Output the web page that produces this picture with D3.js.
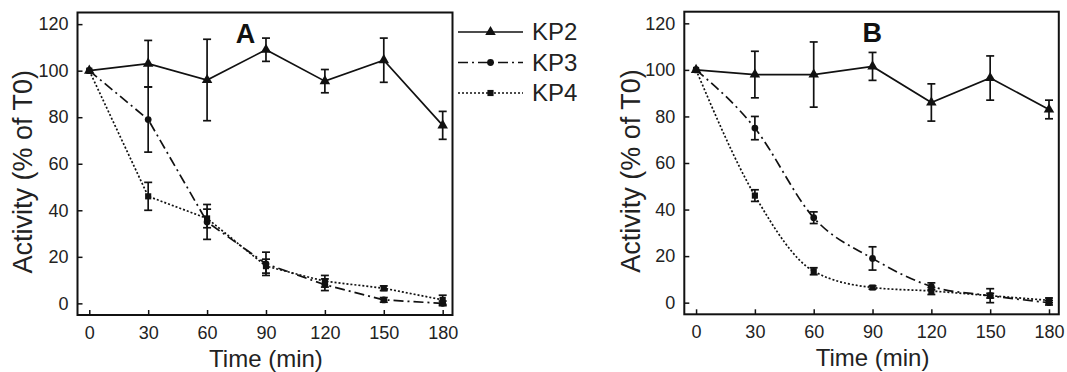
<!DOCTYPE html>
<html>
<head>
<meta charset="utf-8">
<script src="https://cdn.jsdelivr.net/npm/d3@7"></script>
<style>
  body { margin: 0; background: #fff; }
  svg { display: block; font-family: "Liberation Sans", Arial, sans-serif; }
</style>
</head>
<body>
<svg id="chart" width="1067" height="372"></svg>
<script>
// time points (min)
const times = [0, 30, 60, 90, 120, 150, 180];
const xTicks = [0, 30, 60, 90, 120, 150, 180];
const yTicks = [0, 20, 40, 60, 80, 100, 120];
const seriesNames = ['KP2', 'KP3', 'KP4'];

// panel A
const aKP2 = [100, 103, 96, 109, 95.5, 104.5, 76.5];
const aKP2err = [0, 10, 17.5, 5, 5, 9.5, 6];
const aKP3 = [100, 79, 35, 17, 8, 1.5, 0];
const aKP3err = [0, 14, 7.5, 5, 2.5, 1, 1];
const aKP4 = [100, 46, 36.5, 16, 9.5, 6.5, 1.5];
const aKP4err = [0, 6, 4, 3, 2.5, 1, 2];

// panel B
const bKP2 = [100, 98, 98, 101.5, 86, 96.5, 83];
const bKP2err = [0, 10, 14, 6, 8, 9.5, 4];
const bKP3 = [100, 75, 36.5, 19, 7, 3, 0];
const bKP3err = [0, 5, 2.5, 5, 1.5, 1, 1];
const bKP4 = [100, 46, 13.5, 6.5, 5, 3, 1];
const bKP4err = [0, 2.5, 1.5, 0.7, 1.5, 3, 1];

const svg = d3.select('#chart');

const styles = {
  KP2: { dash: null, marker: d3.symbolTriangle, size: 48 },
  KP3: { dash: '10,4,2,4', marker: d3.symbolCircle, size: 36 },
  KP4: { dash: '2,2', marker: d3.symbolSquare, size: 38 }
};

function drawPanel(opts) {
  const g = svg.append('g').attr('transform', `translate(${opts.left},${opts.top})`);
  const w = opts.width, h = opts.height;

  const x = d3.scaleLinear().domain([-6, 185]).range([0, w]);
  const y = d3.scaleLinear().domain([-5, 125]).range([h, 0]);

  // inward ticks
  const xAxis = d3.axisBottom(x).tickValues(xTicks).tickSize(-5).tickPadding(11);
  const yAxis = d3.axisLeft(y).tickValues(yTicks).tickSize(-5).tickPadding(9);

  const gx = g.append('g').attr('transform', `translate(0,${h})`).call(xAxis);
  const gy = g.append('g').call(yAxis);
  [gx, gy].forEach(a => {
    a.select('.domain').remove();
    a.selectAll('line').attr('stroke', '#111').attr('stroke-width', 1.5);
    a.selectAll('text').attr('font-size', 18).attr('fill', '#222')
      .attr('font-family', '"Liberation Sans", Arial, sans-serif');
  });

  g.append('rect')
    .attr('width', w).attr('height', h)
    .attr('fill', 'none').attr('stroke', '#111').attr('stroke-width', 2);

  opts.series.forEach(s => {
    const st = styles[s.name];
    const pts = times.map((t, i) => ({ t, v: s.values[i], e: s.err[i] }));
    const line = d3.line()
      .x(d => x(d.t)).y(d => y(d.v))
      .curve(s.smooth ? d3.curveMonotoneX : d3.curveLinear);

    g.append('path').datum(pts)
      .attr('d', line)
      .attr('fill', 'none')
      .attr('stroke', '#111')
      .attr('stroke-width', 1.7)
      .attr('stroke-dasharray', st.dash);

    const eb = g.append('g').attr('stroke', '#111').attr('stroke-width', 1.7);
    pts.filter(d => d.e > 0).forEach(d => {
      const cx = x(d.t);
      eb.append('line').attr('x1', cx).attr('x2', cx).attr('y1', y(d.v - d.e)).attr('y2', y(d.v + d.e));
      eb.append('line').attr('x1', cx - 4).attr('x2', cx + 4).attr('y1', y(d.v - d.e)).attr('y2', y(d.v - d.e));
      eb.append('line').attr('x1', cx - 4).attr('x2', cx + 4).attr('y1', y(d.v + d.e)).attr('y2', y(d.v + d.e));
    });

    g.append('g').selectAll('path.pt').data(pts).join('path')
      .attr('class', 'pt')
      .attr('transform', d => `translate(${x(d.t)},${y(d.v)})`)
      .attr('d', d3.symbol().type(st.marker).size(st.size))
      .attr('fill', '#111');
  });

  // panel letter
  g.append('text')
    .attr('x', opts.letterX).attr('y', 30)
    .attr('text-anchor', 'middle')
    .attr('font-size', 27).attr('font-weight', 'bold')
    .attr('font-family', '"Liberation Sans Narrow", "Liberation Sans", Arial, sans-serif')
    .attr('fill', '#111')
    .text(opts.letter);

  // axis titles
  g.append('text')
    .attr('x', x(90)).attr('y', h + 52)
    .attr('text-anchor', 'middle')
    .attr('font-size', 24).attr('fill', '#222')
    .text('Time (min)');

  g.append('text')
    .attr('transform', `translate(${opts.yTitleX},${h / 2 + 8}) rotate(-90)`)
    .attr('text-anchor', 'middle')
    .attr('font-size', 27).attr('fill', '#222')
    .text('Activity (% of T0)');
}

drawPanel({
  left: 77.5, top: 12.5, width: 375, height: 302.5,
  letter: 'A', letterX: 168, yTitleX: -45.5,
  series: [
    { name: 'KP2', values: aKP2, err: aKP2err },
    { name: 'KP3', values: aKP3, err: aKP3err },
    { name: 'KP4', values: aKP4, err: aKP4err }
  ]
});

drawPanel({
  left: 684.3, top: 11.7, width: 374.5, height: 302.6,
  letter: 'B', letterX: 188, yTitleX: -44,
  series: [
    { name: 'KP2', values: bKP2, err: bKP2err },
    { name: 'KP3', values: bKP3, err: bKP3err, smooth: true },
    { name: 'KP4', values: bKP4, err: bKP4err, smooth: true }
  ]
});

// legend
const legend = svg.append('g').attr('transform', 'translate(458,32)');
seriesNames.forEach((name, i) => {
  const st = styles[name];
  const row = legend.append('g').attr('transform', `translate(0,${i * 30.5})`);
  row.append('line').attr('x1', 0).attr('x2', 65)
    .attr('stroke', '#111').attr('stroke-width', 1.7)
    .attr('stroke-dasharray', st.dash);
  row.append('path')
    .attr('transform', 'translate(32.5,0)')
    .attr('d', d3.symbol().type(st.marker).size(st.size))
    .attr('fill', '#111');
  row.append('text').attr('x', 74).attr('y', 0).attr('dy', '0.35em')
    .attr('font-size', 24).attr('fill', '#222')
    .text(name);
});
</script>
</body>
</html>
